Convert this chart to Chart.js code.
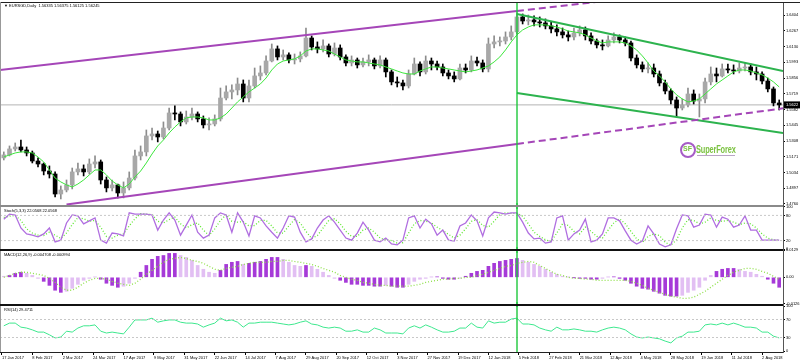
<!DOCTYPE html>
<html>
<head>
<meta charset="utf-8">
<script src="https://cdn.jsdelivr.net/npm/chart.js@4.4.1/dist/chart.umd.min.js"></script>
<style>
  html, body { margin: 0; padding: 0; background: #fff; width: 800px; height: 362px; overflow: hidden; }
  canvas { position: absolute; left: 0; }
  .sep { position: absolute; left: 0; z-index: 5; }
  #logo { position: absolute; left: 680px; top: 142px; z-index: 6; font-family: 'Liberation Sans', Arial, sans-serif; }
  #logo .ring { position: absolute; left: 0; top: 0; width: 12px; height: 12px; border: 2px solid #a65cc6; border-radius: 50%; }
  #logo .sf { position: absolute; left: 3px; top: 3px; font-size: 7px; font-weight: bold; color: #7cc242; }
  #logo .name { position: absolute; left: 16px; top: 2px; font-size: 10px; font-weight: bold; color: #7cc242; transform: scaleX(0.74); transform-origin: left top; white-space: nowrap; letter-spacing: -0.2px; }
  #logo .sub { position: absolute; left: 17px; top: 13px; width: 38px; height: 1px; background: #b9a4c6; }
</style>
</head>
<body>
<canvas id="main" width="800" height="206" style="top:3px"></canvas>
<canvas id="stoch" width="800" height="50" style="top:203px"></canvas>
<canvas id="macd" width="800" height="60" style="top:247px"></canvas>
<canvas id="rsi" width="800" height="60" style="top:302px"></canvas>
<div class="sep" style="top:2px;width:800px;height:1px;background:#222"></div>
<div class="sep" style="top:2px;width:1px;height:350px;background:#999"></div>
<div class="sep" style="top:205px;width:783px;height:2px;background:#8a8a8a"></div>
<div class="sep" style="top:249px;width:783px;height:2px;background:#111"></div>
<div class="sep" style="top:304px;width:783px;height:2px;background:#111"></div>
<div id="logo"><div class="ring"></div><div class="sf">SF</div><div class="name">SuperForex</div><div class="sub"></div></div>
<script>
// EURSGD daily, every candle here = 3 trading days
const tickLabels = ['17 Jan 2017', '8 Feb 2017', '2 Mar 2017', '24 Mar 2017', '17 Apr 2017', '9 May 2017',
  '31 May 2017', '22 Jun 2017', '14 Jul 2017', '7 Aug 2017', '29 Aug 2017', '20 Sep 2017', '12 Oct 2017',
  '3 Nov 2017', '27 Nov 2017', '19 Dec 2017', '12 Jan 2018', '5 Feb 2018', '27 Feb 2018', '21 Mar 2018',
  '12 Apr 2018', '4 May 2018', '28 May 2018', '19 Jun 2018', '11 Jul 2018', '2 Aug 2018'];
const daysPerLabel = 16;
const daysPerCandle = 3;

const priceTicks = [1.6404, 1.6267, 1.6130, 1.5993, 1.5856, 1.5719, 1.5582, 1.5445, 1.5308, 1.5171, 1.5034, 1.4897, 1.4760];
const stochTicks = [100, 80, 20, 0];
const macdTicks = [0.0129, 0, -0.0126];
const rsiTicks = [100, 70, 30, 0];
const stochLevels = [80, 20];
const rsiLevels = [70, 30];

const firstOpen = 1.5161;
const closes = [1.5187,1.5239,1.5256,1.5230,1.5204,1.5134,1.5108,1.5047,1.5021,1.4847,
  1.4882,1.4926,1.5039,1.5065,1.5039,1.5108,1.5126,1.4969,1.4900,1.4926,
  1.4856,1.4900,1.4986,1.5178,1.5213,1.5352,1.5369,1.5343,1.5421,1.5552,
  1.5543,1.5474,1.5517,1.5543,1.5500,1.5448,1.5456,1.5500,1.5682,1.5735,
  1.5752,1.5804,1.5682,1.5787,1.5874,1.5900,1.6004,1.6109,1.6039,1.6057,
  1.6013,1.6022,1.6048,1.6204,1.6126,1.6109,1.6135,1.6065,1.6117,1.6039,
  1.5987,1.6013,1.5970,1.5996,1.6013,1.5961,1.6013,1.5909,1.5822,1.5813,
  1.5787,1.5891,1.5978,1.5909,1.6004,1.5978,1.5952,1.5900,1.5874,1.5848,
  1.5943,1.5926,1.6004,1.5987,1.5935,1.6152,1.6170,1.6178,1.6213,1.6257,
  1.6387,1.6352,1.6361,1.6344,1.6335,1.6309,1.6283,1.6257,1.6231,1.6213,
  1.6248,1.6274,1.6222,1.6178,1.6144,1.6135,1.6187,1.6213,1.6187,1.6161,
  1.6030,1.5970,1.5935,1.5943,1.5891,1.5813,1.5743,1.5665,1.5595,1.5622,
  1.5717,1.5656,1.5674,1.5822,1.5891,1.5874,1.5935,1.5926,1.5917,1.5943,
  1.5952,1.5909,1.5891,1.5830,1.5761,1.5639,1.5622];
const highs = [1.5213,1.5265,1.5291,1.5317,1.5256,1.5221,1.5161,1.5117,1.5091,1.5039,
  1.4917,1.4969,1.5073,1.5117,1.5100,1.5152,1.5178,1.5143,1.4995,1.4969,
  1.4934,1.4952,1.5039,1.5230,1.5265,1.5404,1.5421,1.5395,1.5474,1.5595,
  1.5613,1.5561,1.5569,1.5595,1.5561,1.5526,1.5509,1.5535,1.5769,1.5787,
  1.5796,1.5856,1.5839,1.5839,1.5943,1.5961,1.6048,1.6152,1.6135,1.6100,
  1.6074,1.6065,1.6083,1.6291,1.6222,1.6170,1.6187,1.6152,1.6161,1.6144,
  1.6057,1.6048,1.6030,1.6030,1.6057,1.6030,1.6048,1.6030,1.5926,1.5865,
  1.5839,1.5926,1.6030,1.5996,1.6048,1.6030,1.6004,1.5978,1.5926,1.5909,
  1.5978,1.5978,1.6048,1.6039,1.6013,1.6204,1.6222,1.6213,1.6257,1.6309,
  1.6422,1.6413,1.6404,1.6396,1.6387,1.6370,1.6344,1.6318,1.6291,1.6265,
  1.6291,1.6309,1.6300,1.6248,1.6196,1.6187,1.6222,1.6248,1.6231,1.6213,
  1.6178,1.6057,1.5996,1.5987,1.5978,1.5917,1.5839,1.5761,1.5691,1.5674,
  1.5769,1.5752,1.5717,1.5856,1.5952,1.5943,1.5978,1.5978,1.5970,1.5987,
  1.5987,1.5978,1.5952,1.5909,1.5856,1.5778,1.5665];
const lows = [1.5143,1.5178,1.5221,1.5213,1.5178,1.5117,1.5082,1.5013,1.4986,1.4821,
  1.4804,1.4865,1.4891,1.5013,1.5004,1.5021,1.5073,1.4934,1.4865,1.4873,
  1.4813,1.4813,1.4882,1.4969,1.5143,1.5178,1.5317,1.5300,1.5326,1.5404,
  1.5491,1.5439,1.5456,1.5491,1.5474,1.5421,1.5404,1.5439,1.5482,1.5665,
  1.5674,1.5709,1.5648,1.5648,1.5769,1.5839,1.5883,1.5996,1.6013,1.6013,
  1.5987,1.5978,1.5996,1.6039,1.6100,1.6074,1.6083,1.6039,1.6048,1.6013,
  1.5961,1.5961,1.5943,1.5952,1.5961,1.5935,1.5943,1.5865,1.5796,1.5778,
  1.5752,1.5769,1.5883,1.5874,1.5891,1.5926,1.5926,1.5874,1.5848,1.5822,
  1.5839,1.5900,1.5909,1.5961,1.5909,1.5909,1.6117,1.6135,1.6152,1.6187,
  1.6239,1.6326,1.6318,1.6309,1.6300,1.6283,1.6248,1.6222,1.6204,1.6178,
  1.6187,1.6222,1.6187,1.6152,1.6117,1.6100,1.6126,1.6161,1.6161,1.6135,
  1.6004,1.5943,1.5909,1.5900,1.5865,1.5787,1.5717,1.5630,1.5517,1.5578,
  1.5604,1.5630,1.5517,1.5639,1.5796,1.5822,1.5865,1.5900,1.5891,1.5900,
  1.5917,1.5883,1.5839,1.5804,1.5735,1.5613,1.5578];
const movingAvg = [1.5169,1.5187,1.5204,1.5213,1.5213,1.5204,1.5169,1.5126,1.5056,1.4986,
  1.4952,1.4926,1.4908,1.4934,1.4969,1.5013,1.5056,1.5056,1.5013,1.4960,
  1.4926,1.4900,1.4934,1.4995,1.5047,1.5117,1.5195,1.5265,1.5317,1.5378,
  1.5430,1.5474,1.5509,1.5517,1.5517,1.5509,1.5491,1.5491,1.5509,1.5543,
  1.5595,1.5648,1.5691,1.5735,1.5769,1.5804,1.5856,1.5926,1.5978,1.6004,
  1.6013,1.6022,1.6048,1.6091,1.6109,1.6109,1.6100,1.6091,1.6065,1.6039,
  1.6013,1.6004,1.5996,1.5996,1.5987,1.5978,1.5970,1.5952,1.5935,1.5917,
  1.5900,1.5891,1.5891,1.5917,1.5935,1.5952,1.5952,1.5943,1.5935,1.5926,
  1.5917,1.5909,1.5917,1.5926,1.5943,1.5961,1.5996,1.6039,1.6100,1.6170,
  1.6231,1.6274,1.6300,1.6318,1.6318,1.6318,1.6309,1.6300,1.6283,1.6265,
  1.6257,1.6248,1.6231,1.6204,1.6178,1.6161,1.6170,1.6170,1.6170,1.6161,
  1.6135,1.6100,1.6048,1.5987,1.5917,1.5874,1.5822,1.5761,1.5709,1.5674,
  1.5648,1.5656,1.5674,1.5717,1.5761,1.5804,1.5839,1.5874,1.5909,1.5926,
  1.5926,1.5917,1.5900,1.5883,1.5856,1.5822,1.5778];

const stochK = [71,83,81,50,36,33,29,36,50,17,
  21,62,81,79,60,67,74,21,14,38,
  36,31,86,83,83,83,81,45,69,86,
  69,33,57,81,40,26,33,74,86,81,
  40,86,64,31,79,74,55,40,26,50,
  79,76,40,17,24,50,69,79,64,45,
  26,21,38,64,45,21,17,26,12,10,
  21,74,79,50,71,60,33,45,21,19,
  55,62,81,67,31,74,88,86,83,86,
  86,64,38,24,26,14,17,74,79,21,
  36,45,71,17,21,36,74,74,67,43,
  21,12,19,55,36,12,5,10,48,81,
  79,52,57,83,81,52,76,71,52,57,
  79,45,45,21,21,21,21];
const stochD = [75,78,80,68,48,38,33,32,40,33,
  25,38,58,75,72,66,68,52,30,26,
  33,36,55,72,84,83,82,66,62,70,
  76,60,50,58,62,45,32,48,68,82,
  66,64,65,55,56,68,68,55,38,38,
  55,70,62,42,25,32,50,68,72,60,
  42,30,30,45,50,40,26,22,20,14,
  15,38,60,68,66,62,52,44,35,26,
  33,48,66,70,56,52,66,82,86,85,
  85,78,60,40,30,22,18,38,60,56,
  42,36,52,42,30,26,45,62,72,60,
  42,24,16,30,36,32,16,9,22,50,
  70,68,60,64,74,68,66,68,64,58,
  62,60,50,36,26,22,21];

const macdMain = [0.0005,0.0009,0.0019,0.0024,0.0019,0.0009,-0.0005,-0.0019,-0.0038,-0.0061,
  -0.0071,-0.0066,-0.0052,-0.0033,-0.0014,-0.0005,0.0001,-0.0009,-0.0028,-0.0038,
  -0.0047,-0.0042,-0.0028,-0.0005,0.0024,0.0056,0.0085,0.0099,0.0103,0.0113,
  0.0113,0.0103,0.0094,0.0080,0.0056,0.0038,0.0024,0.0019,0.0033,0.0061,
  0.0071,0.0075,0.0061,0.0066,0.0071,0.0075,0.0085,0.0094,0.0094,0.0085,
  0.0071,0.0056,0.0052,0.0056,0.0052,0.0038,0.0024,0.0009,-0.0005,-0.0014,
  -0.0024,-0.0033,-0.0033,-0.0038,-0.0038,-0.0042,-0.0042,-0.0038,-0.0042,-0.0047,
  -0.0047,-0.0033,-0.0019,-0.0009,-0.0005,0.0001,0.0002,-0.0005,-0.0009,-0.0009,
  -0.0005,0.0005,0.0019,0.0028,0.0033,0.0052,0.0066,0.0075,0.0080,0.0085,
  0.0089,0.0080,0.0071,0.0061,0.0052,0.0038,0.0024,0.0014,0.0005,0.0001,
  -0.0001,-0.0005,-0.0005,-0.0009,-0.0009,-0.0005,0.0001,0.0002,-0.0005,-0.0014,
  -0.0028,-0.0042,-0.0052,-0.0056,-0.0066,-0.0075,-0.0085,-0.0089,-0.0089,-0.0085,
  -0.0071,-0.0061,-0.0047,-0.0014,0.0009,0.0028,0.0038,0.0042,0.0042,0.0038,
  0.0028,0.0024,0.0014,0.0005,-0.0009,-0.0028,-0.0047];
const macdSignal = [0.0000,0.0009,0.0019,0.0024,0.0024,0.0019,0.0014,0.0009,-0.0005,-0.0024,
  -0.0047,-0.0061,-0.0061,-0.0047,-0.0028,-0.0014,-0.0005,-0.0005,-0.0009,-0.0019,
  -0.0028,-0.0033,-0.0038,-0.0028,-0.0009,0.0014,0.0033,0.0052,0.0071,0.0085,
  0.0089,0.0094,0.0089,0.0080,0.0075,0.0066,0.0052,0.0038,0.0033,0.0042,
  0.0047,0.0052,0.0061,0.0066,0.0071,0.0071,0.0071,0.0075,0.0075,0.0080,
  0.0080,0.0075,0.0071,0.0066,0.0061,0.0052,0.0042,0.0033,0.0024,0.0009,
  0.0000,-0.0009,-0.0014,-0.0024,-0.0028,-0.0033,-0.0038,-0.0038,-0.0042,-0.0042,
  -0.0042,-0.0042,-0.0038,-0.0033,-0.0024,-0.0019,-0.0014,-0.0009,-0.0009,-0.0005,
  -0.0005,0.0000,0.0000,0.0009,0.0014,0.0024,0.0033,0.0042,0.0052,0.0056,
  0.0066,0.0071,0.0075,0.0071,0.0056,0.0042,0.0028,0.0014,0.0009,0.0000,
  -0.0005,-0.0005,-0.0009,-0.0009,-0.0014,-0.0014,-0.0014,-0.0014,-0.0014,-0.0014,
  -0.0019,-0.0028,-0.0038,-0.0052,-0.0061,-0.0071,-0.0080,-0.0089,-0.0094,-0.0099,
  -0.0099,-0.0094,-0.0080,-0.0066,-0.0047,-0.0028,-0.0009,0.0009,0.0024,0.0033,
  0.0042,0.0042,0.0038,0.0028,0.0019,0.0005,-0.0009];

const rsi = [56,62,62,53,51,47,42,42,36,29,
  31,44,42,51,56,56,58,44,40,42,
  40,38,53,69,69,69,73,64,67,69,
  69,64,62,62,60,53,58,62,73,67,
  69,64,53,62,62,64,64,64,62,60,
  58,60,64,67,60,58,53,51,53,51,
  44,44,47,42,42,51,47,40,40,40,
  38,51,56,51,58,53,47,42,42,44,
  51,51,62,53,51,67,62,64,64,71,
  73,60,60,58,51,47,44,53,47,47,
  49,47,44,44,42,47,51,53,51,47,
  38,31,29,31,29,27,22,18,29,33,
  42,42,44,58,60,58,62,58,62,58,
  53,53,51,42,42,33,29];

// hand-drawn objects: [day, price]
const purpleTop = [[-1, 1.5926], [271, 1.6439]];
const purpleTopExt = [[271, 1.6439], [347, 1.6582]];
const purpleLow = [[34, 1.4756], [271, 1.5282]];
const purpleLowExt = [[271, 1.5282], [411, 1.5592]];
const greenTop = [[271, 1.6413], [411, 1.5917]];
const greenLow = [[271, 1.5726], [411, 1.5378]];
const markerDay = 271;

const fontFam = "'Liberation Sans', Arial, sans-serif";
const purple = '#a546b8';
const chanGreen = '#2db34e';

const days = closes.map((c, i) => i * daysPerCandle + 1);
const opens = [firstOpen].concat(closes.slice(0, -1));
const firstDay = -1, lastDay = 411;

function pts(arr) { return arr.map(p => ({ x: p[0], y: p[1] })); }
function series(arr) { return arr.map((v, i) => ({ x: days[i], y: v })); }
function level(v) { return [{ x: firstDay, y: v }, { x: lastDay, y: v }]; }

function xAxis(show) {
  return {
    type: 'linear', min: firstDay, max: lastDay, offset: false, display: show,
    afterBuildTicks: s => { s.ticks = tickLabels.map((t, k) => ({ value: k * daysPerLabel })); },
    afterFit: s => { if (show) s.height = 10; },
    grid: { offset: false, drawOnChartArea: false, drawTicks: true, tickLength: 3, tickColor: '#000' },
    border: { display: true, color: '#222' },
    ticks: { autoSkip: false, maxRotation: 0, minRotation: 0, align: 'start', padding: 0,
      font: { family: fontFam, size: 4 }, color: '#000', callback: (v, i) => tickLabels[i] }
  };
}

function yAxis(min, max, ticks, fmt) {
  return {
    position: 'right', min: min, max: max,
    afterBuildTicks: s => { s.ticks = ticks.map(v => ({ value: v })); },
    afterFit: s => { s.width = 17; s.paddingTop = 0; s.paddingBottom = 0; },
    grid: { drawOnChartArea: false, drawTicks: true, tickLength: 2, tickColor: '#000' },
    border: { display: true, color: '#555' },
    ticks: { autoSkip: false, padding: 1, font: { family: fontFam, size: 4 }, color: '#000', callback: fmt }
  };
}

const paneText = {
  id: 'paneText',
  afterDraw(chart, args, opts) {
    const ctx = chart.ctx;
    ctx.save();
    ctx.font = '4px ' + fontFam;
    ctx.fillStyle = '#000';
    ctx.textBaseline = 'top';
    ctx.fillText(opts.text, opts.x, opts.y);
    ctx.restore();
  }
};

const marker = {
  id: 'marker',
  afterDatasetsDraw(chart) {
    const ctx = chart.ctx;
    const x = Math.round(chart.scales.x.getPixelForValue(markerDay));
    ctx.save();
    ctx.strokeStyle = '#1ec83c';
    ctx.lineWidth = 1.4;
    ctx.beginPath();
    ctx.moveTo(x, chart.chartArea.top);
    ctx.lineTo(x, chart.chartArea.bottom);
    ctx.stroke();
    ctx.restore();
  }
};

const priceBox = {
  id: 'priceBox',
  afterDraw(chart) {
    const ctx = chart.ctx;
    const last = closes[closes.length - 1];
    const y = chart.scales.y.getPixelForValue(last);
    const x = chart.chartArea.right + 1;
    ctx.save();
    ctx.fillStyle = '#000';
    ctx.fillRect(x, y - 3.5, 16, 7);
    ctx.fillStyle = '#fff';
    ctx.font = '4px ' + fontFam;
    ctx.textBaseline = 'middle';
    ctx.fillText(last.toFixed(4), x + 2, y);
    ctx.restore();
  }
};

function baseOptions(text, ty, yCfg, showX) {
  return {
    responsive: false, animation: false, events: [],
    layout: { padding: 0 },
    plugins: { legend: { display: false }, tooltip: { enabled: false },
      paneText: { text: text, x: 4, y: ty } },
    scales: { x: xAxis(showX), y: yCfg }
  };
}

const lineStyle = { type: 'line', pointRadius: 0, tension: 0, fill: false };

// main price pane
new Chart(document.getElementById('main'), {
  type: 'bar',
  data: {
    datasets: [
      { ...lineStyle, data: pts(purpleTop), borderColor: purple, borderWidth: 2, order: 0 },
      { ...lineStyle, data: pts(purpleTopExt), borderColor: purple, borderWidth: 2, borderDash: [7, 4], order: 0 },
      { ...lineStyle, data: pts(purpleLow), borderColor: purple, borderWidth: 2, order: 0 },
      { ...lineStyle, data: pts(purpleLowExt), borderColor: purple, borderWidth: 2, borderDash: [7, 4], order: 0 },
      { ...lineStyle, data: pts(greenTop), borderColor: chanGreen, borderWidth: 2, order: 0 },
      { ...lineStyle, data: pts(greenLow), borderColor: chanGreen, borderWidth: 2, order: 0 },
      { ...lineStyle, data: series(movingAvg), borderColor: '#3ce63c', borderWidth: 1, order: 1 },
      { ...lineStyle, data: level(closes[closes.length - 1]), borderColor: '#b4b4b4', borderWidth: 1, order: 5 },
      { type: 'bar', grouped: false, barThickness: 1, order: 4,
        data: days.map((d, i) => ({ x: d, y: [lows[i], highs[i]] })),
        backgroundColor: closes.map((c, i) => c >= opens[i] ? '#8c8c8c' : '#000') },
      { type: 'bar', grouped: false, barThickness: 4, order: 3,
        data: days.map((d, i) => ({ x: d, y: [opens[i], closes[i]] })),
        backgroundColor: closes.map((c, i) => c >= opens[i] ? '#a8a8a8' : '#000'),
        minBarLength: 1 }
    ]
  },
  options: baseOptions('\u25BC EURSGD,Daily  1.56335 1.56375 1.56125 1.56245', 1,
    yAxis(1.47165, 1.65084, priceTicks, v => v.toFixed(4)), false),
  plugins: [paneText, marker, priceBox]
});

// stochastic
new Chart(document.getElementById('stoch'), {
  type: 'line',
  data: {
    datasets: [
      { ...lineStyle, data: level(stochLevels[0]), borderColor: '#c8c8c8', borderWidth: 1, borderDash: [2, 2] },
      { ...lineStyle, data: level(stochLevels[1]), borderColor: '#c8c8c8', borderWidth: 1, borderDash: [2, 2] },
      { ...lineStyle, data: series(stochK), borderColor: '#b06ee0', borderWidth: 1.3 },
      { ...lineStyle, data: series(stochD), borderColor: '#5fe830', borderWidth: 1.3, borderDash: [1, 2] }
    ]
  },
  options: baseOptions('Stoch(5,3,3) 22.0568 22.0568', 6, yAxis(-9.52, 109.52, stochTicks, v => String(v)), false),
  plugins: [paneText, marker]
});

// MACD
new Chart(document.getElementById('macd'), {
  type: 'bar',
  data: {
    datasets: [
      { ...lineStyle, data: series(macdSignal), borderColor: '#8ee048', borderWidth: 1.3, borderDash: [1, 2], order: 0 },
      { type: 'bar', barThickness: 3, order: 1, data: series(macdMain),
        backgroundColor: macdMain.map((v, i) => i > 0 && Math.abs(v) >= Math.abs(macdMain[i - 1]) ? '#a63ad8' : '#e2bff3') }
    ]
  },
  options: baseOptions('MACD(12,26,9) -0.004708 -0.000994', 6,
    yAxis(-0.01402, 0.01432, macdTicks, v => v === 0 ? '0.00' : v.toFixed(4)), false),
  plugins: [paneText, marker]
});

// RSI
new Chart(document.getElementById('rsi'), {
  type: 'line',
  data: {
    datasets: [
      { ...lineStyle, data: level(rsiLevels[0]), borderColor: '#c8c8c8', borderWidth: 1, borderDash: [2, 2] },
      { ...lineStyle, data: level(rsiLevels[1]), borderColor: '#c8c8c8', borderWidth: 1, borderDash: [2, 2] },
      { ...lineStyle, data: series(rsi), borderColor: '#3ee88e', borderWidth: 1 }
    ]
  },
  options: baseOptions('RSI(14) 29.4711', 6, yAxis(-2.22, 108.89, rsiTicks, v => String(v)), true),
  plugins: [paneText, marker]
});
</script>
</body>
</html>
